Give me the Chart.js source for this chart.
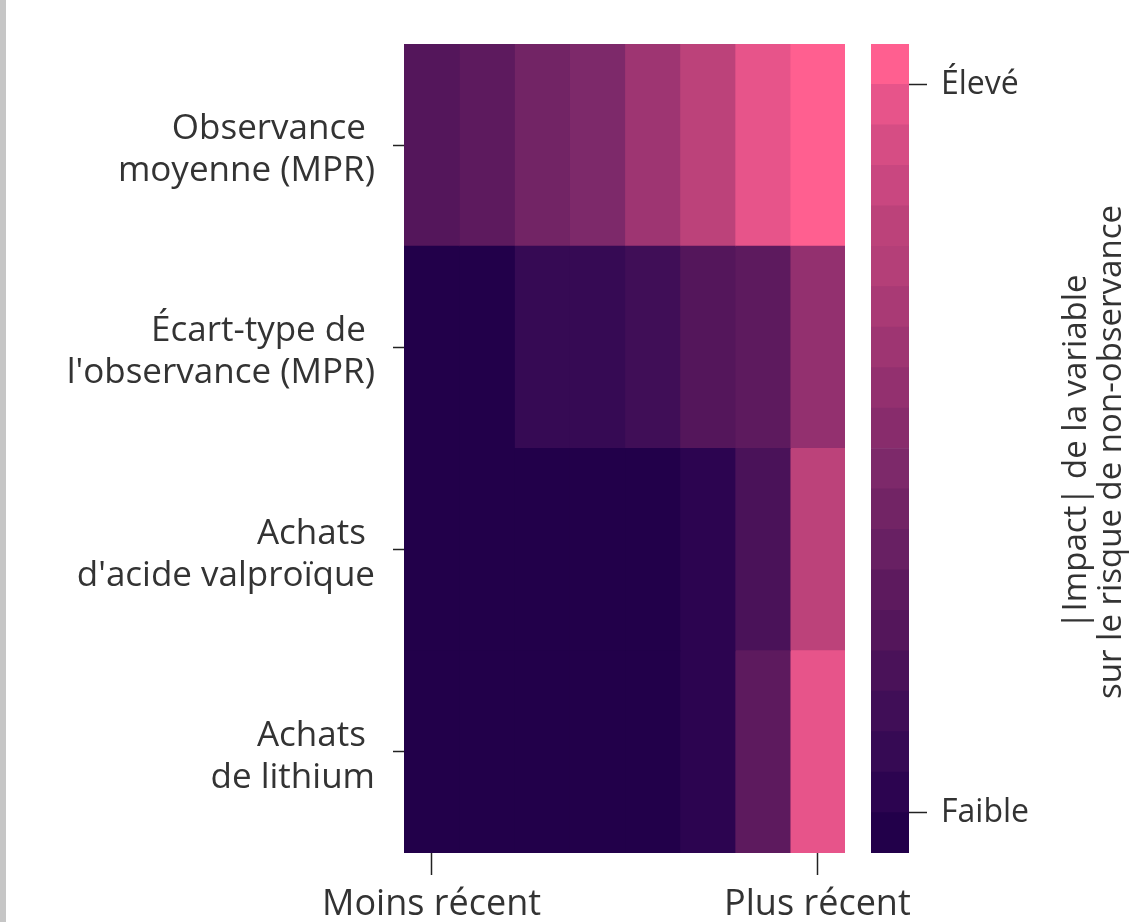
<!DOCTYPE html>
<html>
<head>
<meta charset="utf-8">
<script src="https://cdn.jsdelivr.net/npm/chart.js@4.4.0/dist/chart.umd.min.js"></script>
<style>
  html, body { margin: 0; padding: 0; background: #fff; width: 1132px; height: 922px; overflow: hidden; }
  #edge { position: absolute; left: 0; top: 0; width: 6px; height: 922px; background: #c6c6c6; }
  #heat { position: absolute; left: 0; top: 0; }
  #cbar { position: absolute; left: 860px; top: 0; }
</style>
</head>
<body>
<div id="edge"></div>
<canvas id="heat" width="1132" height="922"></canvas>
<canvas id="cbar" width="272" height="922"></canvas>
<script>
// ---- data ----
const variables = [
  ['Observance ', 'moyenne (MPR)'],
  ['Écart-type de ', "l'observance (MPR)"],
  ['Achats ', "d'acide valproïque"],
  ['Achats ', 'de lithium']
];
const periods = ['P1', 'P2', 'P3', 'P4', 'P5', 'P6', 'P7', 'P8'];
const periodTicks = [0.5, 7.5];
const periodTickLabels = ['Moins récent', 'Plus récent'];

// impact level (0 = faible .. 19 = élevé) per period
const observanceMoy = [5, 6, 8, 9, 12, 15, 18, 19];
const ecartType     = [0, 0, 2, 2, 3, 5, 6, 11];
const valproique    = [0, 0, 0, 0, 0, 1, 4, 15];
const lithium       = [0, 0, 0, 0, 0, 1, 6, 18];

const levels = [0, 1, 2, 3, 4, 5, 6, 7, 8, 9, 10, 11, 12, 13, 14, 15, 16, 17, 18, 19];
const levelTicks = [1, 19];
const levelTickLabels = ['Faible', 'Élevé'];

// discrete colour scale, low -> high
const palette = [
  '#22004a', '#2c0450', '#360a54', '#400e57', '#4a1259',
  '#54165b', '#5d1a5e', '#682063', '#722465', '#7d296a',
  '#882c6c', '#93306f', '#9e3572', '#a93a75', '#b43f78',
  '#bc427a', '#c94780', '#d64d84', '#e7548a', '#ff5f90'
];

const matrix = [observanceMoy, ecartType, valproique, lithium];
const textColor = '#333';
const fontFamily = '"Open Sans", sans-serif';

// drop the extra room Chart.js keeps for overhanging tick labels
const noPad = s => { s.paddingLeft = 0; s.paddingRight = 0; s.paddingTop = 0; s.paddingBottom = 0; };

// ---- heatmap ----
new Chart(document.getElementById('heat'), {
  type: 'bar',
  data: {
    labels: variables,
    datasets: periods.map((p, c) => ({
      label: p,
      data: variables.map(() => 1),
      backgroundColor: matrix.map(row => palette[row[c]]),
      borderWidth: 0,
      inflateAmount: 0.6,
      barPercentage: 1,
      categoryPercentage: 1
    }))
  },
  options: {
    indexAxis: 'y',
    responsive: false,
    animation: false,
    layout: { padding: { top: 44, right: 287, left: 0, bottom: 0 } },
    plugins: { legend: { display: false }, tooltip: { enabled: false } },
    scales: {
      x: {
        type: 'linear',
        stacked: true,
        min: 0,
        max: periods.length,
        afterFit: s => { s.height = 69; noPad(s); },
        afterBuildTicks: s => { s.ticks = periodTicks.map(v => ({ value: v })); },
        ticks: {
          autoSkip: false,
          maxRotation: 0,
          padding: 8,
          color: textColor,
          font: { family: fontFamily, size: 36 },
          callback: (v, i) => periodTickLabels[i]
        },
        grid: { drawOnChartArea: false, tickLength: 22, tickColor: '#222', tickWidth: 1.5 },
        border: { display: false }
      },
      y: {
        stacked: true,
        afterFit: s => { s.width = 404; noPad(s); },
        ticks: {
          padding: 18,
          labelOffset: 5,
          color: textColor,
          font: { family: fontFamily, size: 35, lineHeight: 1.2 }
        },
        grid: { offset: false, drawOnChartArea: false, tickLength: 11, tickColor: '#222', tickWidth: 1.5 },
        border: { display: false }
      }
    }
  }
});

// ---- colour bar ----
const cbarTitle = {
  id: 'cbarTitle',
  afterDraw(chart) {
    const ctx = chart.ctx;
    ctx.save();
    ctx.translate(226, 452);
    ctx.rotate(-Math.PI / 2);
    ctx.fillStyle = textColor;
    ctx.font = '33px ' + fontFamily;
    ctx.textAlign = 'center';
    ctx.textBaseline = 'alphabetic';
    ctx.fillText('|Impact| de la variable', 0, 0);
    ctx.fillText('sur le risque de non-observance', 0, 35);
    ctx.restore();
  }
};

new Chart(document.getElementById('cbar'), {
  type: 'bar',
  data: {
    labels: [''],
    datasets: levels.map(l => ({
      label: String(l),
      data: [1],
      backgroundColor: palette[l],
      borderWidth: 0,
      barPercentage: 1,
      categoryPercentage: 1
    }))
  },
  options: {
    responsive: false,
    animation: false,
    layout: { padding: { top: 44, right: 0, left: 11, bottom: 69 } },
    plugins: { legend: { display: false }, tooltip: { enabled: false } },
    scales: {
      x: { stacked: true, display: false },
      y: {
        stacked: true,
        position: 'right',
        min: 0,
        max: levels.length,
        afterFit: s => { s.width = 223; noPad(s); },
        afterBuildTicks: s => { s.ticks = levelTicks.map(v => ({ value: v })); },
        ticks: {
          padding: 14,
          color: textColor,
          font: { family: fontFamily, size: 32 },
          callback: (v, i) => levelTickLabels[i]
        },
        grid: { drawOnChartArea: false, tickLength: 18, tickColor: '#222', tickWidth: 1.5 },
        border: { display: false }
      }
    }
  },
  plugins: [cbarTitle]
});
</script>
</body>
</html>
